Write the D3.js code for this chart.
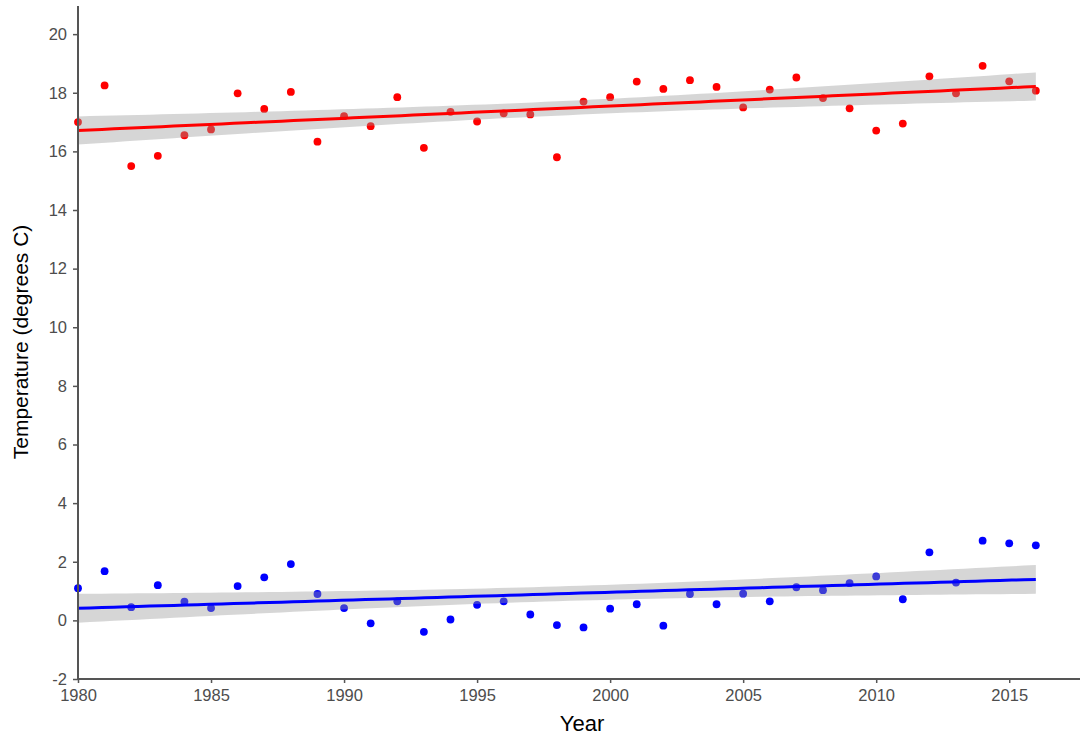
<!DOCTYPE html>
<html>
<head>
<meta charset="utf-8">
<script src="https://cdn.jsdelivr.net/npm/d3@7"></script>
<style>
  body { margin: 0; background: #fff; }
  svg { display: block; font-family: "Liberation Sans", Arial, sans-serif; }
</style>
</head>
<body>
<svg id="chart" width="1083" height="736"></svg>
<script>
const years = d3.range(1980, 2017);
const maxTemp = [17.0, 18.25, 15.5, 15.85, 16.55, 16.75, 17.98, 17.45, 18.03, 16.33, 17.2, 16.86, 17.85,
  16.12, 17.35, 17.02, 17.3, 17.26, 15.8, 17.7, 17.85, 18.38, 18.13, 18.43, 18.2, 17.5,
  18.11, 18.52, 17.82, 17.47, 16.71, 16.95, 18.56, 17.98, 18.92, 18.39, 18.07];
const minTemp = [1.1, 1.68, 0.45, 1.2, 0.64, 0.42, 1.17, 1.47, 1.92, 0.9, 0.42, -0.1, 0.65,
  -0.39, 0.03, 0.53, 0.65, 0.2, -0.16, -0.24, 0.4, 0.55, -0.18, 0.9, 0.55, 0.91,
  0.65, 1.13, 1.03, 1.27, 1.5, 0.72, 2.32, 1.29, 2.72, 2.63, 2.56];
const yTicks = [-2, 0, 2, 4, 6, 8, 10, 12, 14, 16, 18, 20];
const xTicks = [1980, 1985, 1990, 1995, 2000, 2005, 2010, 2015];
const seriesColors = ["#ff0000", "#0000ff"];

const svg = d3.select("#chart");
const x = d3.scaleLinear().domain([1980, 2017.66]).range([78, 1080]);
const y = d3.scaleLinear().domain([-2, 20.96]).range([679, 6]);

// linear fit with 95% confidence band (geom_smooth method = lm)
function fit(xs, ys) {
  const n = xs.length;
  const mx = d3.mean(xs), my = d3.mean(ys);
  let sxx = 0, sxy = 0;
  xs.forEach((v, i) => { sxx += (v - mx) ** 2; sxy += (v - mx) * (ys[i] - my); });
  const b = sxy / sxx, a = my - b * mx;
  let sse = 0;
  xs.forEach((v, i) => { sse += (ys[i] - (a + b * v)) ** 2; });
  const s = Math.sqrt(sse / (n - 2));
  const t = 2.0301; // t(0.975, 35)
  const grid = d3.range(0, 81).map(k => xs[0] + (xs[n - 1] - xs[0]) * k / 80);
  return grid.map(g => {
    const yh = a + b * g;
    const se = s * Math.sqrt(1 / n + (g - mx) ** 2 / sxx);
    return { x: g, y: yh, lo: yh - t * se, hi: yh + t * se };
  });
}

const series = [maxTemp, minTemp];

series.forEach((vals, si) => {
  const g = svg.append("g");
  g.selectAll("circle").data(years.map((yr, i) => ({ yr, v: vals[i] })))
    .join("circle")
    .attr("cx", d => x(d.yr)).attr("cy", d => y(d.v)).attr("r", 3.9)
    .attr("fill", seriesColors[si]);
  const f = fit(years, vals);
  g.append("path").datum(f)
    .attr("d", d3.area().x(d => x(d.x)).y0(d => y(d.lo)).y1(d => y(d.hi)))
    .attr("fill", "#999999").attr("fill-opacity", 0.4);
  g.append("path").datum(f)
    .attr("d", d3.line().x(d => x(d.x)).y(d => y(d.y)))
    .attr("fill", "none").attr("stroke", seriesColors[si]).attr("stroke-width", 3);
});

// axes
const axisColor = "#555555";
const xAxis = svg.append("g").attr("transform", "translate(0,679)")
  .call(d3.axisBottom(x).tickValues(xTicks).tickFormat(d => String(d)).tickSize(4).tickPadding(6));
const yAxis = svg.append("g").attr("transform", "translate(78,0)")
  .call(d3.axisLeft(y).tickValues(yTicks).tickFormat(d => String(d)).tickSize(5).tickPadding(6));
[xAxis, yAxis].forEach(ax => {
  ax.select(".domain").attr("stroke", axisColor).attr("stroke-width", 2);
  ax.selectAll(".tick line").attr("stroke", axisColor).attr("stroke-width", 1.5);
  ax.selectAll(".tick text").attr("fill", "#4d4d4d").style("font-size", "16.5px")
    .style("font-family", "'Liberation Sans', Arial, sans-serif");
});
xAxis.select(".domain").attr("d", "M78,0H1080");
yAxis.select(".domain").attr("d", "M0,6V679");

svg.append("text").attr("x", 582).attr("y", 731).attr("text-anchor", "middle")
  .style("font-size", "22px").attr("fill", "#000").text("Year");
svg.append("text").attr("transform", "translate(28,342) rotate(-90)").attr("text-anchor", "middle")
  .style("font-size", "21px").attr("fill", "#000").text("Temperature (degrees C)");
</script>
</body>
</html>
